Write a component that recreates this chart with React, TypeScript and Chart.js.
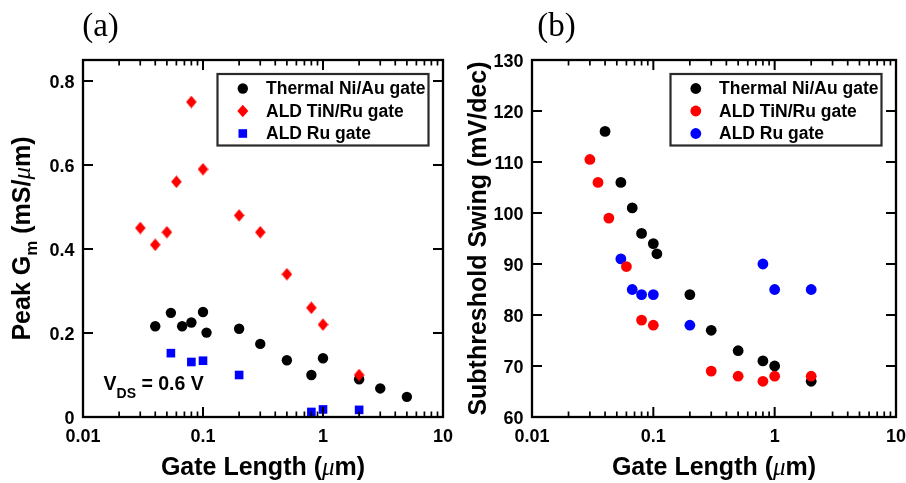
import React, { useEffect, useRef } from "react";
import { Chart, registerables } from "chart.js";

Chart.register(...registerables);

// ---------- axis ticks ----------
const xTickValues = [0.01, 0.1, 1, 10];
const xTickLabels = ["0.01", "0.1", "1", "10"];
const xMinorDecades = [0.01, 0.1, 1];
const xMinorMultipliers = [2, 3, 4, 5, 6, 7, 8, 9];

const gmYTicks = [0, 0.2, 0.4, 0.6, 0.8];
const gmYLabels = ["0", "0.2", "0.4", "0.6", "0.8"];
const ssYTicks = [60, 70, 80, 90, 100, 110, 120, 130];
const ssYLabels = ["60", "70", "80", "90", "100", "110", "120", "130"];

const seriesNames = ["Thermal Ni/Au gate", "ALD TiN/Ru gate", "ALD Ru gate"];

// ---------- (a) Peak Gm ----------
const gmThermalL = [0.04, 0.054, 0.067, 0.08, 0.1, 0.107, 0.2, 0.3, 0.5, 0.8, 1, 2, 3, 5];
const gmThermal = [0.216, 0.248, 0.216, 0.225, 0.25, 0.201, 0.21, 0.174, 0.135, 0.1, 0.14, 0.09, 0.068, 0.048];
const gmTinRuL = [0.03, 0.04, 0.05, 0.06, 0.08, 0.1, 0.2, 0.3, 0.5, 0.8, 1, 2];
const gmTinRu = [0.45, 0.41, 0.44, 0.56, 0.75, 0.59, 0.48, 0.44, 0.34, 0.26, 0.22, 0.1];
const gmRuL = [0.054, 0.08, 0.1, 0.2, 0.8, 1, 2];
const gmRu = [0.152, 0.131, 0.134, 0.1, 0.012, 0.018, 0.017];

// ---------- (b) Subthreshold swing ----------
const ssThermalL = [0.04, 0.054, 0.067, 0.08, 0.1, 0.107, 0.2, 0.3, 0.5, 0.8, 1, 2];
const ssThermal = [116, 106, 101, 96, 94, 92, 84, 77, 73, 71, 70, 67];
const ssTinRuL = [0.03, 0.035, 0.043, 0.06, 0.08, 0.1, 0.3, 0.5, 0.8, 1, 2];
const ssTinRu = [110.5, 106, 99, 89.5, 79, 78, 69, 68, 67, 68, 68];
const ssRuL = [0.054, 0.067, 0.08, 0.1, 0.2, 0.8, 1, 2];
const ssRu = [91, 85, 84, 84, 78, 90, 85, 85];

const BLACK = "#000000";
const RED = "#ff0000";
const BLUE = "#0000ff";

const SANS = "'Liberation Sans', Arial, sans-serif";
const SERIF = "'Liberation Serif', 'Times New Roman', serif";

type Run = { text: string; font: string; dy?: number };
type Shape = "circle" | "diamond" | "square";

interface Series {
  name: string;
  xs: number[];
  ys: number[];
  color: string;
  shape: Shape;
  order: number;
}

interface Panel {
  label: string;
  labelOffset: number;
  yTicks: number[];
  yLabels: string[];
  yMin: number;
  yMax: number;
  yTitle: Run[];
  yTitleBaselineX: number;
  series: Series[];
  circleR: number;
  legendShapes: Shape[];
  annotation: Run[] | null;
  padLeft: number;
}

function drawRuns(
  ctx: CanvasRenderingContext2D,
  runs: Run[],
  x: number,
  y: number,
  align: "left" | "center",
  rotate: boolean
) {
  ctx.save();
  ctx.translate(x, y);
  if (rotate) ctx.rotate(-Math.PI / 2);
  ctx.textAlign = "left";
  ctx.textBaseline = "alphabetic";
  const widths = runs.map((r) => {
    ctx.font = r.font;
    return ctx.measureText(r.text).width;
  });
  const total = widths.reduce((s, w) => s + w, 0);
  let cx = align === "center" ? -total / 2 : 0;
  runs.forEach((r, i) => {
    ctx.font = r.font;
    ctx.fillText(r.text, cx, r.dy ?? 0);
    cx += widths[i];
  });
  ctx.restore();
}

function drawMarker(ctx: CanvasRenderingContext2D, shape: Shape, color: string, x: number, y: number, r: number) {
  ctx.save();
  ctx.fillStyle = color;
  ctx.beginPath();
  if (shape === "circle") {
    ctx.arc(x, y, r, 0, Math.PI * 2);
  } else if (shape === "diamond") {
    ctx.moveTo(x, y - 6.2);
    ctx.lineTo(x + 5.5, y);
    ctx.lineTo(x, y + 6.2);
    ctx.lineTo(x - 5.5, y);
    ctx.closePath();
  } else {
    ctx.rect(x - 4.3, y - 4.3, 8.6, 8.6);
  }
  ctx.fill();
  ctx.restore();
}

function makeDiamond(color: string) {
  const c = document.createElement("canvas");
  const w = 11;
  const h = 13;
  c.width = w;
  c.height = h;
  const g = c.getContext("2d")!;
  g.fillStyle = color;
  g.beginPath();
  g.moveTo(w / 2, 0.3);
  g.lineTo(w - 0.2, h / 2);
  g.lineTo(w / 2, h - 0.3);
  g.lineTo(0.2, h / 2);
  g.closePath();
  g.fill();
  return c;
}

function makePlugin(p: Panel) {
  return {
    id: "deco" + p.label.replace(/[()]/g, ""),
    afterDraw(chart: any) {
      const ctx: CanvasRenderingContext2D = chart.ctx;
      const a = chart.chartArea;
      const xs = chart.scales.x;
      const ys = chart.scales.y;
      ctx.save();

      // inward ticks
      ctx.strokeStyle = "#000";
      ctx.lineCap = "butt";
      ctx.lineWidth = 2;
      ctx.beginPath();
      for (const v of xTickValues) {
        const px = xs.getPixelForValue(v);
        ctx.moveTo(px, a.bottom);
        ctx.lineTo(px, a.bottom - 10);
        ctx.moveTo(px, a.top);
        ctx.lineTo(px, a.top + 10);
      }
      for (const v of p.yTicks) {
        const py = ys.getPixelForValue(v);
        ctx.moveTo(a.left, py);
        ctx.lineTo(a.left + 10, py);
        ctx.moveTo(a.right, py);
        ctx.lineTo(a.right - 10, py);
      }
      ctx.stroke();
      ctx.lineWidth = 1.7;
      ctx.beginPath();
      for (const d of xMinorDecades) {
        for (const m of xMinorMultipliers) {
          const px = xs.getPixelForValue(d * m);
          ctx.moveTo(px, a.bottom);
          ctx.lineTo(px, a.bottom - 5.5);
          ctx.moveTo(px, a.top);
          ctx.lineTo(px, a.top + 5.5);
        }
      }
      ctx.stroke();

      // frame
      ctx.lineWidth = 2.3;
      ctx.strokeRect(a.left, a.top, a.right - a.left, a.bottom - a.top);

      // tick labels
      ctx.fillStyle = "#000";
      ctx.font = "bold 18px " + SANS;
      ctx.textAlign = "center";
      ctx.textBaseline = "middle";
      xTickValues.forEach((v, i) => {
        ctx.fillText(xTickLabels[i], xs.getPixelForValue(v), a.bottom + 20.5);
      });
      ctx.textAlign = "right";
      p.yTicks.forEach((v, i) => {
        ctx.fillText(p.yLabels[i], a.left - 8.5, ys.getPixelForValue(v) + 2);
      });

      // axis titles
      drawRuns(
        ctx,
        [
          { text: "Gate Length (", font: "bold 25px " + SANS },
          { text: "\u03bc", font: "italic 25px " + SERIF },
          { text: "m)", font: "bold 25px " + SANS },
        ],
        (a.left + a.right) / 2,
        a.bottom + 58,
        "center",
        false
      );
      drawRuns(ctx, p.yTitle, p.yTitleBaselineX, (a.top + a.bottom) / 2, "center", true);

      // panel label
      ctx.font = "33px " + SERIF;
      ctx.textAlign = "center";
      ctx.textBaseline = "alphabetic";
      ctx.fillText(p.label, a.left + p.labelOffset, 36);

      // annotation
      if (p.annotation) {
        drawRuns(ctx, p.annotation, a.left + 20.6, a.bottom - 26.7, "left", false);
      }

      // legend
      const bw = 211;
      const bh = 71.5;
      const bx = a.right - 14.5 - bw;
      const by = a.top + 14;
      ctx.fillStyle = "#fff";
      ctx.fillRect(bx, by, bw, bh);
      ctx.strokeStyle = "#2a2a2a";
      ctx.lineWidth = 2.2;
      ctx.strokeRect(bx, by, bw, bh);
      ctx.font = "bold 17.5px " + SANS;
      ctx.textAlign = "left";
      ctx.textBaseline = "middle";
      p.series.forEach((s, i) => {
        const ry = by + 14.5 + i * 22.5;
        drawMarker(ctx, p.legendShapes[i], s.color, bx + 25.3, ry, p.circleR);
        ctx.fillStyle = "#000";
        ctx.fillText(s.name, bx + 48.5, ry + 1);
      });

      ctx.restore();
    },
  };
}

function PanelChart({ panel }: { panel: Panel }) {
  const ref = useRef<HTMLCanvasElement | null>(null);
  useEffect(() => {
    if (!ref.current) return;
    const datasets = panel.series.map((s) => {
      const base: any = {
        label: s.name,
        data: s.xs.map((x, i) => ({ x, y: s.ys[i] })),
        backgroundColor: s.color,
        borderColor: s.color,
        borderWidth: 0,
        showLine: false,
        order: s.order,
      };
      if (s.shape === "circle") {
        base.pointStyle = "circle";
        base.pointRadius = panel.circleR;
      } else if (s.shape === "diamond") {
        base.pointStyle = makeDiamond(s.color);
        base.pointRadius = 6;
      } else {
        base.pointStyle = "rect";
        base.pointRadius = 6.1;
      }
      return base;
    });
    const chart = new Chart(ref.current, {
      type: "scatter",
      data: { datasets },
      options: {
        animation: false,
        responsive: true,
        maintainAspectRatio: false,
        events: [],
        layout: { padding: { left: panel.padLeft, right: 10, top: 60, bottom: 66 } },
        plugins: { legend: { display: false }, tooltip: { enabled: false } },
        scales: {
          x: { type: "logarithmic", min: 0.01, max: 10, display: false },
          y: { type: "linear", min: panel.yMin, max: panel.yMax, display: false },
        },
      },
      plugins: [makePlugin(panel)],
    });
    return () => chart.destroy();
  }, [panel]);
  return <canvas ref={ref} />;
}

const panelA: Panel = {
  label: "(a)",
  labelOffset: 17.5,
  yTicks: gmYTicks,
  yLabels: gmYLabels,
  yMin: 0,
  yMax: 0.85,
  yTitle: [
    { text: "Peak G", font: "bold 25px " + SANS },
    { text: "m", font: "bold 17px " + SANS, dy: 7 },
    { text: " (mS/", font: "bold 25px " + SANS },
    { text: "\u03bc", font: "italic 25px " + SERIF },
    { text: "m)", font: "bold 25px " + SANS },
  ],
  yTitleBaselineX: 29.5,
  series: [
    { name: seriesNames[0], xs: gmThermalL, ys: gmThermal, color: BLACK, shape: "circle", order: 3 },
    { name: seriesNames[1], xs: gmTinRuL, ys: gmTinRu, color: RED, shape: "diamond", order: 1 },
    { name: seriesNames[2], xs: gmRuL, ys: gmRu, color: BLUE, shape: "square", order: 2 },
  ],
  circleR: 5.2,
  legendShapes: ["circle", "diamond", "square"],
  annotation: [
    { text: "V", font: "bold 19.5px " + SANS },
    { text: "DS", font: "bold 14px " + SANS, dy: 8 },
    { text: " = 0.6 V", font: "bold 19.5px " + SANS },
  ],
  padLeft: 83,
};

const panelB: Panel = {
  label: "(b)",
  labelOffset: 24.5,
  yTicks: ssYTicks,
  yLabels: ssYLabels,
  yMin: 60,
  yMax: 130,
  yTitle: [{ text: "Subthreshold Swing (mV/dec)", font: "bold 25px " + SANS }],
  yTitleBaselineX: 32.5,
  series: [
    { name: seriesNames[0], xs: ssThermalL, ys: ssThermal, color: BLACK, shape: "circle", order: 3 },
    { name: seriesNames[1], xs: ssTinRuL, ys: ssTinRu, color: RED, shape: "circle", order: 1 },
    { name: seriesNames[2], xs: ssRuL, ys: ssRu, color: BLUE, shape: "circle", order: 2 },
  ],
  circleR: 5.4,
  legendShapes: ["circle", "circle", "circle"],
  annotation: null,
  padLeft: 79,
};

export default function App() {
  return (
    <div style={{ position: "fixed", left: 0, top: 0, width: 906, height: 483, background: "#fff" }}>
      <div style={{ position: "absolute", left: 0, top: 0, width: 453, height: 483 }}>
        <PanelChart panel={panelA} />
      </div>
      <div style={{ position: "absolute", left: 453, top: 0, width: 453, height: 483 }}>
        <PanelChart panel={panelB} />
      </div>
    </div>
  );
}
